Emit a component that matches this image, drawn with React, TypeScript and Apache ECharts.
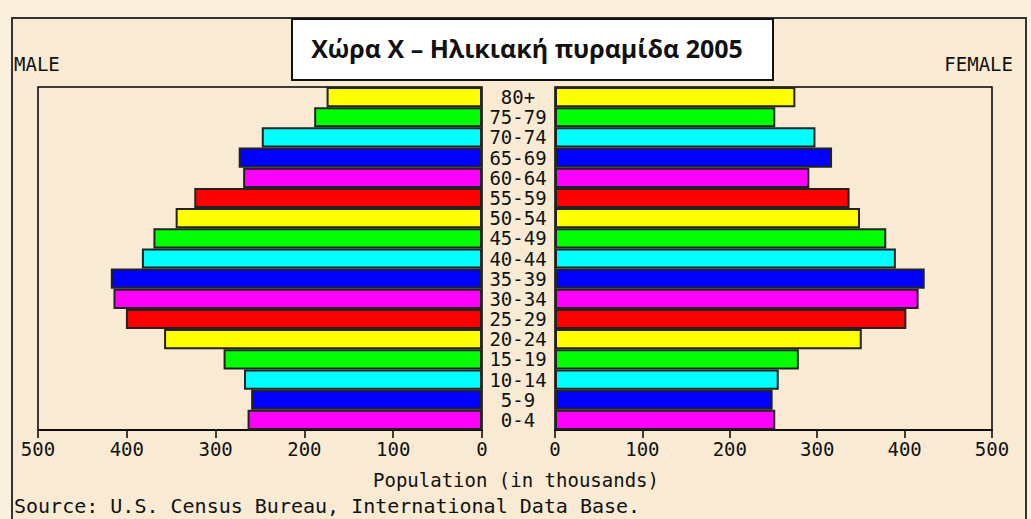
import React, { useEffect, useRef } from "react";
import * as echarts from "echarts";

const categories = ["0-4", "5-9", "10-14", "15-19", "20-24", "25-29", "30-34", "35-39", "40-44", "45-49", "50-54", "55-59", "60-64", "65-69", "70-74", "75-79", "80+"];
const maleValues = [264, 260, 268, 291, 358, 401, 415, 418, 383, 370, 345, 324, 269, 274, 248, 189, 175];
const femaleValues = [252, 249, 256, 279, 351, 402, 416, 423, 390, 379, 349, 337, 291, 317, 298, 252, 275];
const colorCycle = ["#ff00ff", "#0000ff", "#00ffff", "#00ff00", "#ffff00", "#ff0000"];
const titleText = "Χώρα Χ – Ηλικιακή πυραμίδα 2005";
const axisTitle = "Population (in thousands)";
const sourceText = "Source: U.S. Census Bureau, International Data Base.";

const MONO = "DejaVu Sans Mono";

export default function App() {
  const ref = useRef<HTMLDivElement>(null);
  useEffect(() => {
    if (!ref.current) return;
    const chart = echarts.init(ref.current, null, { renderer: "svg" });
    const mkData = (vals: number[]) =>
      vals.map((v, i) => ({
        value: v,
        itemStyle: { color: colorCycle[i % colorCycle.length] },
      }));
    const xCommon = {
      type: "value" as const,
      min: 0,
      max: 500,
      interval: 100,
      splitLine: { show: false },
      axisLine: { show: true, lineStyle: { color: "#000", width: 1.5 } },
      axisTick: { show: true, length: 8, lineStyle: { color: "#000", width: 1.5 } },
      axisLabel: { color: "#111", fontFamily: MONO, fontSize: 19, margin: 9 },
    };
    const option = {
      animation: false,
      backgroundColor: "#fbf0de",
      grid: [
        { left: 38, top: 87, width: 444, height: 343, show: true, borderColor: "#000", borderWidth: 1.5, backgroundColor: "transparent" },
        { left: 555, top: 87, width: 437, height: 343, show: true, borderColor: "#000", borderWidth: 1.5, backgroundColor: "transparent" },
      ],
      xAxis: [
        { ...xCommon, gridIndex: 0, inverse: true },
        { ...xCommon, gridIndex: 1 },
      ],
      yAxis: [
        {
          type: "category",
          gridIndex: 0,
          data: categories,
          axisLine: { show: false },
          axisTick: { show: false },
          axisLabel: { show: false },
        },
        {
          type: "category",
          gridIndex: 1,
          position: "left",
          data: categories,
          axisLine: { show: false },
          axisTick: { show: false },
          axisLabel: { show: true, interval: 0, margin: 37, align: "center", color: "#111", fontFamily: MONO, fontSize: 19, lineHeight: 20 },
        },
      ],
      series: [
        {
          type: "bar",
          xAxisIndex: 0,
          yAxisIndex: 0,
          data: mkData(maleValues),
          barCategoryGap: "0%",
          itemStyle: { borderColor: "#222", borderWidth: 2 },
        },
        {
          type: "bar",
          xAxisIndex: 1,
          yAxisIndex: 1,
          data: mkData(femaleValues),
          barCategoryGap: "0%",
          itemStyle: { borderColor: "#222", borderWidth: 2 },
        },
      ],
      graphic: [
        {
          type: "rect",
          z: -10,
          shape: { x: 12, y: 18, width: 1014, height: 520 },
          style: { fill: "#f9ebd3", stroke: "#333", lineWidth: 2 },
        },
        {
          type: "rect",
          shape: { x: 292, y: 19, width: 481, height: 61 },
          style: { fill: "#ffffff", stroke: "#111", lineWidth: 2 },
        },
        {
          type: "text",
          x: 527,
          y: 48,
          style: { text: titleText, fill: "#111", font: "bold 25px 'Open Sans'", align: "center", verticalAlign: "middle" },
        },
        {
          type: "text",
          x: 14,
          y: 64,
          style: { text: "MALE", fill: "#111", font: `19px '${MONO}'`, align: "left", verticalAlign: "middle" },
        },
        {
          type: "text",
          x: 1013,
          y: 64,
          style: { text: "FEMALE", fill: "#111", font: `19px '${MONO}'`, align: "right", verticalAlign: "middle" },
        },
        {
          type: "text",
          x: 516,
          y: 480,
          style: { text: axisTitle, fill: "#111", font: `19px '${MONO}'`, align: "center", verticalAlign: "middle" },
        },
        {
          type: "text",
          x: 14,
          y: 506,
          style: { text: sourceText, fill: "#111", font: `20px '${MONO}'`, align: "left", verticalAlign: "middle" },
        },
      ],
    };
    chart.setOption(option as any);
    return () => chart.dispose();
  }, []);
  return (
    <div style={{ position: "absolute", left: 0, top: 0, width: 1031, height: 519 }}>
      <div ref={ref} style={{ width: 1031, height: 519 }} />
    </div>
  );
}
